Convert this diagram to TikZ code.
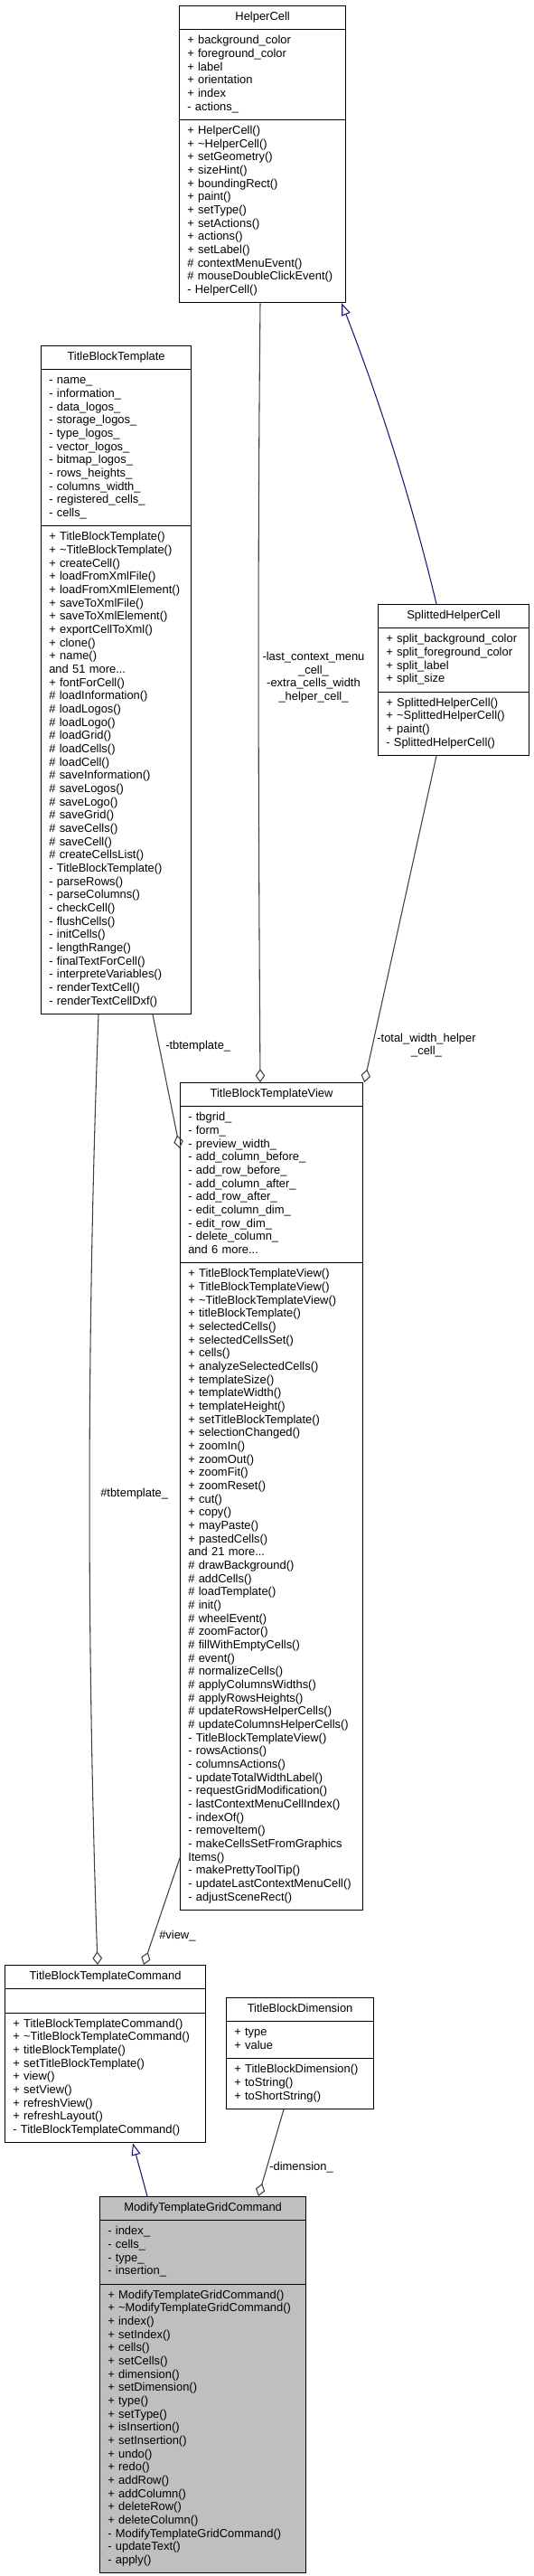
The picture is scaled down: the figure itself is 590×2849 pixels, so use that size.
\documentclass[tikz,border=0pt]{standalone}
\usepackage{fontspec}
\setmainfont{Liberation Sans}
\usetikzlibrary{shapes.multipart,arrows.meta,calc}
\definecolor{navy}{HTML}{191970}

\begin{document}
\begin{tikzpicture}[
	x=0.75pt,
	y=-0.75pt,
	cls/.style={draw,line width=0.9pt,rectangle split,rectangle split parts=3,
		anchor=north west,align=left,inner xsep=6.5pt,inner ysep=3.9pt,
		font=\fontsize{9.7}{11}\selectfont},
	usage/.style={draw=black!75,line width=0.8pt,-{Diamond[open,length=11pt,width=8pt]}},
	inherit/.style={draw=navy,line width=0.8pt,-{Triangle[open,length=10pt,width=7.5pt]}},
	lbl/.style={font=\fontsize{9.7}{11}\selectfont,align=center,inner sep=0pt}
	]
	\fill[white] (0,0) rectangle (590,2849);
	\useasboundingbox (0,0) rectangle (590,2849);

	\node[cls,text width=125pt] (hcell) at (198,6) {{\centering\strut HelperCell\strut\par}
		\nodepart{two}\strut+ background\_color\\+ foreground\_color\\+ label\\+ orientation\\+ index\\- actions\_\strut
		\nodepart{three}\strut+ HelperCell()\\+ \textasciitilde HelperCell()\\+ setGeometry()\\+ sizeHint()\\+ boundingRect()\\+ paint()\\+ setType()\\+ setActions()\\+ actions()\\+ setLabel()\\\# contextMenuEvent()\\\# mouseDoubleClickEvent()\\- HelperCell()\strut};
	\node[cls,text width=111.5pt] (tbt) at (45,382) {{\centering\strut TitleBlockTemplate\strut\par}
		\nodepart{two}\strut- name\_\\- information\_\\- data\_logos\_\\- storage\_logos\_\\- type\_logos\_\\- vector\_logos\_\\- bitmap\_logos\_\\- rows\_heights\_\\- columns\_width\_\\- registered\_cells\_\\- cells\_\strut
		\nodepart{three}\strut+ TitleBlockTemplate()\\+ \textasciitilde TitleBlockTemplate()\\+ createCell()\\+ loadFromXmlFile()\\+ loadFromXmlElement()\\+ saveToXmlFile()\\+ saveToXmlElement()\\+ exportCellToXml()\\+ clone()\\+ name()\\and 51 more...\\+ fontForCell()\\\# loadInformation()\\\# loadLogos()\\\# loadLogo()\\\# loadGrid()\\\# loadCells()\\\# loadCell()\\\# saveInformation()\\\# saveLogos()\\\# saveLogo()\\\# saveGrid()\\\# saveCells()\\\# saveCell()\\\# createCellsList()\\- TitleBlockTemplate()\\- parseRows()\\- parseColumns()\\- checkCell()\\- flushCells()\\- initCells()\\- lengthRange()\\- finalTextForCell()\\- interpreteVariables()\\- renderTextCell()\\- renderTextCellDxf()\strut};
	\node[cls,text width=112.25pt] (shcell) at (418,668) {{\centering\strut SplittedHelperCell\strut\par}
		\nodepart{two}\strut+ split\_background\_color\\+ split\_foreground\_color\\+ split\_label\\+ split\_size\strut
		\nodepart{three}\strut+ SplittedHelperCell()\\+ \textasciitilde SplittedHelperCell()\\+ paint()\\- SplittedHelperCell()\strut};
	\node[cls,text width=138.5pt] (view) at (199,1197) {{\centering\strut TitleBlockTemplateView\strut\par}
		\nodepart{two}\strut- tbgrid\_\\- form\_\\- preview\_width\_\\- add\_column\_before\_\\- add\_row\_before\_\\- add\_column\_after\_\\- add\_row\_after\_\\- edit\_column\_dim\_\\- edit\_row\_dim\_\\- delete\_column\_\\and 6 more...\strut
		\nodepart{three}\strut+ TitleBlockTemplateView()\\+ TitleBlockTemplateView()\\+ \textasciitilde TitleBlockTemplateView()\\+ titleBlockTemplate()\\+ selectedCells()\\+ selectedCellsSet()\\+ cells()\\+ analyzeSelectedCells()\\+ templateSize()\\+ templateWidth()\\+ templateHeight()\\+ setTitleBlockTemplate()\\+ selectionChanged()\\+ zoomIn()\\+ zoomOut()\\+ zoomFit()\\+ zoomReset()\\+ cut()\\+ copy()\\+ mayPaste()\\+ pastedCells()\\and 21 more...\\\# drawBackground()\\\# addCells()\\\# loadTemplate()\\\# init()\\\# wheelEvent()\\\# zoomFactor()\\\# fillWithEmptyCells()\\\# event()\\\# normalizeCells()\\\# applyColumnsWidths()\\\# applyRowsHeights()\\\# updateRowsHelperCells()\\\# updateColumnsHelperCells()\\- TitleBlockTemplateView()\\- rowsActions()\\- columnsActions()\\- updateTotalWidthLabel()\\- requestGridModification()\\- lastContextMenuCellIndex()\\- indexOf()\\- removeItem()\\- makeCellsSetFromGraphics\\Items()\\- makePrettyToolTip()\\- updateLastContextMenuCell()\\- adjustSceneRect()\strut};
	\node[cls,text width=153.5pt] (tbtc) at (5,2173) {{\centering\strut TitleBlockTemplateCommand\strut\par}
		\nodepart{two}\strut
		\nodepart{three}\strut+ TitleBlockTemplateCommand()\\+ \textasciitilde TitleBlockTemplateCommand()\\+ titleBlockTemplate()\\+ setTitleBlockTemplate()\\+ view()\\+ setView()\\+ refreshView()\\+ refreshLayout()\\- TitleBlockTemplateCommand()\strut};
	\node[cls,text width=109.25pt] (tbdim) at (250,2209) {{\centering\strut TitleBlockDimension\strut\par}
		\nodepart{two}\strut+ type\\+ value\strut
		\nodepart{three}\strut+ TitleBlockDimension()\\+ toString()\\+ toShortString()\strut};
	\node[cls,text width=158pt,fill=gray!50] (mtgc) at (110,2429) {{\centering\strut ModifyTemplateGridCommand\strut\par}
		\nodepart{two}\strut- index\_\\- cells\_\\- type\_\\- insertion\_\strut
		\nodepart{three}\strut+ ModifyTemplateGridCommand()\\+ \textasciitilde ModifyTemplateGridCommand()\\+ index()\\+ setIndex()\\+ cells()\\+ setCells()\\+ dimension()\\+ setDimension()\\+ type()\\+ setType()\\+ isInsertion()\\+ setInsertion()\\+ undo()\\+ redo()\\+ addRow()\\+ addColumn()\\+ deleteRow()\\+ deleteColumn()\\- ModifyTemplateGridCommand()\\- updateText()\\- apply()\strut};

	\node[lbl] (lctx) at (347,749) {-last\_context\_menu\\\_cell\_\\-extra\_cells\_width\\\_helper\_cell\_};
	\node[lbl,anchor=west] (ltbt) at (183,1157) {-tbtemplate\_};
	\node[lbl] (ltotal) at (472,1156) {-total\_width\_helper\\\_cell\_};
	\node[lbl,anchor=west] (ltbtc) at (111,1652) {\#tbtemplate\_};
	\node[lbl,anchor=west] (lview) at (176,2141) {\#view\_};
	\node[lbl,anchor=west] (ldim) at (298,2397) {-dimension\_};

	\draw[inherit] ($(shcell.north west)+(65,0)$) .. controls (456,555) and (420,443) .. ($(hcell.south east)+(-5,0)$);
	\draw[usage] ($(hcell.south west)+(90,0)$) .. controls (285,620) and (286,900) .. ($(view.north west)+(89,0)$);
	\draw[usage] ($(shcell.south west)+(65,0)$) -- ($(view.north east)+(1,0)$);
	\draw[usage] ($(tbt.south west)+(124,0)$) -- ($(view.north west)+(0,73)$);
	\draw[usage] ($(tbt.south west)+(64,0)$) .. controls (96,1470) and (96,1820) .. ($(tbtc.north west)+(103,0)$);
	\draw[usage] ($(view.south west)+(0,-58)$) -- ($(tbtc.north west)+(154,0)$);
	\draw[usage] ($(tbdim.south west)+(64,0)$) -- ($(mtgc.north west)+(176,0)$);
	\draw[inherit] ($(mtgc.north west)+(53,0)$) -- ($(tbtc.south west)+(142,0)$);
\end{tikzpicture}
\end{document}
